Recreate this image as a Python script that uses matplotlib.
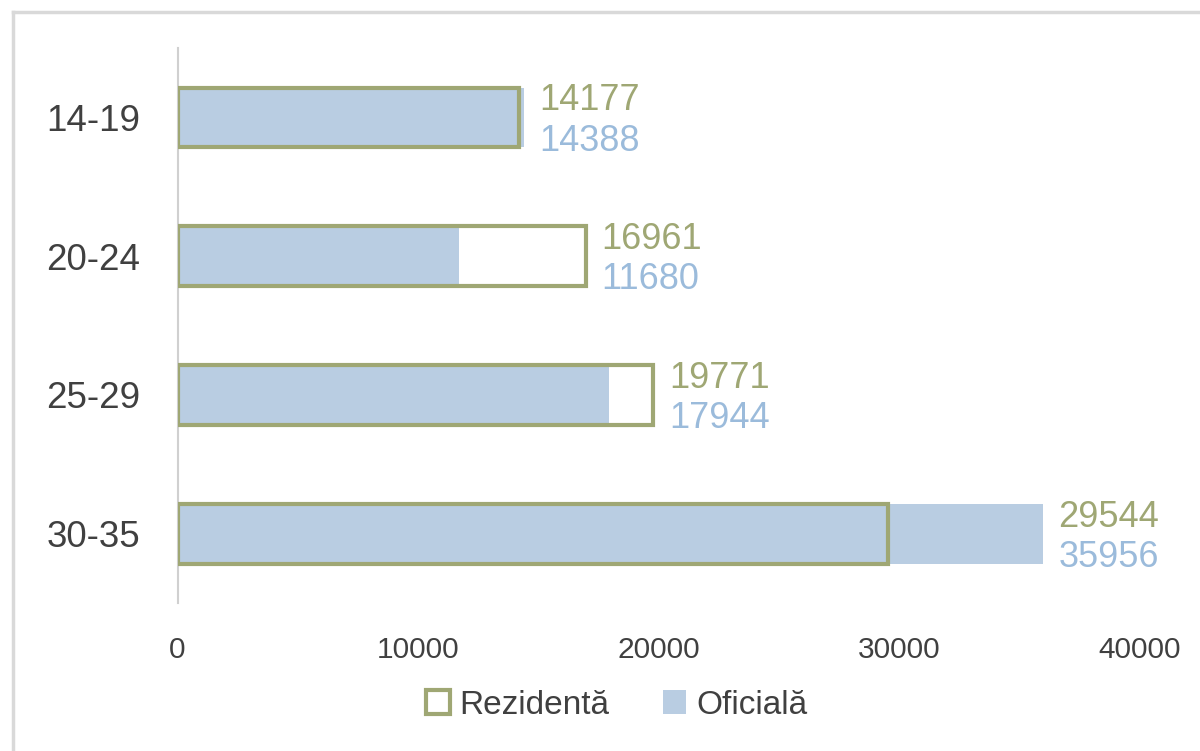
import numpy as np
import matplotlib.pyplot as plt
from matplotlib.patches import Patch

# date
grupe = ["14-19", "20-24", "25-29", "30-35"]
rezidenta = [14177, 16961, 19771, 29544]
oficiala = [14388, 11680, 17944, 35956]
x_ticks = [0, 10000, 20000, 30000, 40000]

verde = "#9fa774"
albastru = "#b9cde2"
albastru_txt = "#9bbbdb"

plt.rcParams['font.family'] = ['Liberation Sans', 'DejaVu Sans']

fig = plt.figure(figsize=(12, 7.51), dpi=100)
ax = fig.add_axes([0.148, 0.197, 0.802, 0.739])

y = np.arange(len(grupe))
h = 0.43

ax.barh(y, oficiala, height=h, color=albastru, zorder=2)
ax.barh(y, rezidenta, height=h, facecolor="none", edgecolor=verde, linewidth=3, zorder=3)

for i in range(len(grupe)):
    xt = max(rezidenta[i], oficiala[i]) + 650
    ax.text(xt, y[i] - 0.12, str(rezidenta[i]), color=verde, fontsize=26,
            va="center", ha="left")
    ax.text(xt, y[i] + 0.17, str(oficiala[i]), color=albastru_txt, fontsize=26,
            va="center", ha="left")

ax.set_xlim(0, 40000)
ax.set_ylim(3.5, -0.5)
ax.set_yticks(y)
ax.set_yticklabels(grupe, fontsize=26.5, color="#404040")
ax.set_xticks(x_ticks)
ax.set_xticklabels([str(t) for t in x_ticks], fontsize=21.5, color="#404040")
ax.tick_params(axis="both", length=0)
ax.tick_params(axis="y", pad=27)
ax.tick_params(axis="x", pad=24)

for s in ["top", "right", "bottom"]:
    ax.spines[s].set_visible(False)
ax.spines["left"].set_color("#d0d0d0")
ax.spines["left"].set_linewidth(1.5)

handles = [Patch(facecolor="white", edgecolor=verde, linewidth=3, label="Rezidentă"),
           Patch(facecolor=albastru, edgecolor="none", label="Oficială")]
ax.legend(handles=handles, loc="center", bbox_to_anchor=(0.514, 0.061),
          bbox_transform=fig.transFigure, ncol=2, frameon=False, fontsize=24,
          handlelength=0.7, handleheight=0.7, handletextpad=0.3, columnspacing=1.6,
          labelcolor="#404040")

# chenar gri
fig.add_artist(plt.Line2D([0.011, 0.011], [0, 0.984], color="#d9d9d9", lw=2.5,
                          transform=fig.transFigure))
fig.add_artist(plt.Line2D([0.011, 1.0], [0.984, 0.984], color="#d9d9d9", lw=2.5,
                          transform=fig.transFigure))

fig.savefig("out.png", dpi=100)
